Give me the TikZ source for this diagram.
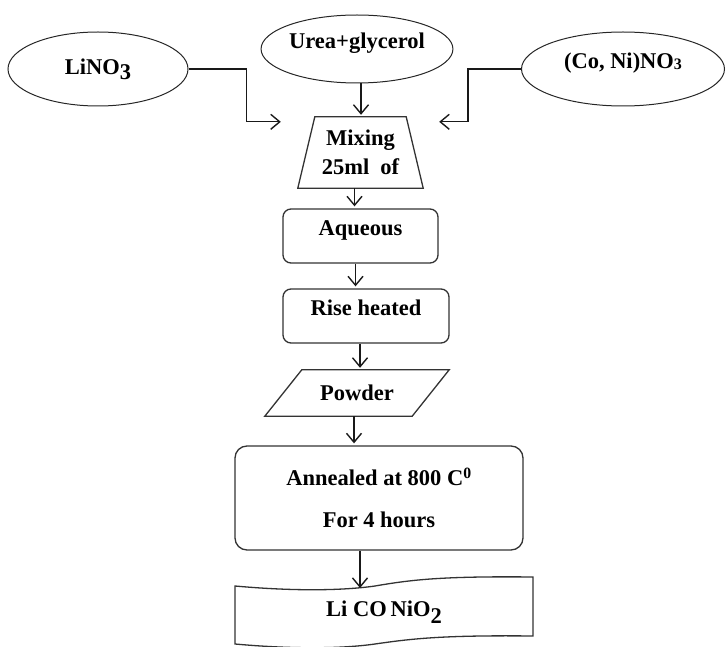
\documentclass[tikz,border=0pt]{standalone}
\usepackage{fontspec}
\setmainfont{Liberation Serif}
\usetikzlibrary{arrows.meta,shapes.geometric}

\begin{document}
\begin{tikzpicture}[
        x=1pt, y=-1pt, % one unit = one pixel, y goes down
        >={Straight Barb[length=9pt,width=15pt]}, % open arrow head
        font=\fontsize{22.5}{27}\selectfont\bfseries]

        \tikzstyle{src}=[
            ellipse,
            draw = black!85,
            line width=1pt,
            inner sep=0pt
        ]
        \tikzstyle{stepbox}=[
            rectangle,
            rounded corners=8pt,
            draw = black!80,
            line width=1.3pt,
            inner sep=0pt
        ]
        \tikzset{arr/.style={->, draw=black!90, line width=1.4pt, shorten > = 2pt}}
        \tikzset{mid/.style={text height=8pt, text depth=8pt}}
        \tikzset{edgeline/.style={draw=black!80, line width=1.3pt}}

        \useasboundingbox (0,0) rectangle (726,647);
        \clip (0,0) rectangle (726,647);

        % sources
        \node[src, minimum width=180, minimum height=74] (lino) at (98,69)
            {LiNO\raisebox{-5pt}{3}};
        \node[src, mid, minimum width=186, minimum height=68] (urea) at (357,49)
            {Urea+glycerol};
        \node[src, mid, minimum width=203, minimum height=74] (coni) at (623,69)
            {(Co, Ni)NO{\fontsize{16}{18}\selectfont\raisebox{-1pt}{3}}};

        % process
        \node[minimum width=125, minimum height=71, inner sep=0pt, align=center]
            (mix) at (360.5,152.5) {Mixing\\[2pt]25ml\ \ of};
        \draw[edgeline] (mix.south west) -- ([xshift=17pt]mix.north west)
            -- ([xshift=-17pt]mix.north east) -- (mix.south east) -- cycle;
        \node[stepbox, mid, minimum width=155, minimum height=54] (aq) at (360.5,236) {Aqueous};
        \node[stepbox, mid, minimum width=166, minimum height=54] (rise) at (366,316) {Rise heated};
        \node[minimum width=147, minimum height=46, inner sep=0pt] (pow) at (357,393) {Powder};
        \draw[edgeline] ([xshift=-18.5pt]pow.south west) -- ([xshift=18.5pt]pow.north west)
            -- ([xshift=18.5pt]pow.north east) -- ([xshift=-18.5pt]pow.south east) -- cycle;
        \node[stepbox, rounded corners=12pt, minimum width=288, minimum height=104,
            align=center] (ann) at (379,498)
            {Annealed at 800 C\textsuperscript{0}\\[15pt]For 4 hours};
        \node (prod) at (384,612) {Li CO\,NiO\raisebox{-7pt}{2}};

        % product sheet
        \draw[edgeline]
            (235,586) .. controls (290,591) and (340,591) .. (375,586)
            .. controls (410,580) and (440,576) .. (533,577)
            -- (533,636)
            .. controls (440,635) and (410,639) .. (375,644)
            .. controls (340,649) and (290,649) .. (235,644) -- cycle;
        \coordinate (dip) at (360,588);

        % connectors
        \draw[arr] (lino.east) -- ++(58,0) |- ([xshift=-15pt,yshift=-5pt]mix.north west);
        \draw[arr] (coni.west) -- ++(-53,0) |- ([xshift=14pt,yshift=-5pt]mix.north east);
        \draw[arr] ([xshift=4pt]urea.south) -- ([xshift=4pt]urea.south |- mix.north);
        \draw[arr] ([xshift=-6pt]mix.south) -- ([xshift=-6pt]mix.south |- aq.north);
        \draw[arr] ([xshift=-5pt]aq.south) -- ([xshift=-5pt]aq.south |- rise.north);
        \draw[arr] ([xshift=-6pt]rise.south) -- ([xshift=-6pt]rise.south |- pow.north);
        \draw[arr] ([xshift=-3pt]pow.south) -- ([xshift=-3pt]pow.south |- ann.north);
        \draw[arr, shorten > = 0pt] ([xshift=-19pt]ann.south) -- (dip);
    \end{tikzpicture}
\end{document}
